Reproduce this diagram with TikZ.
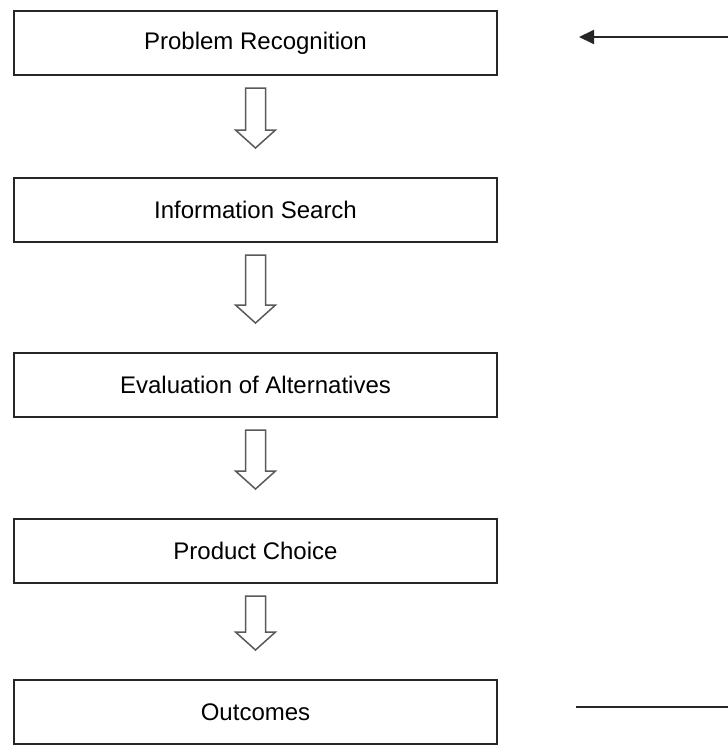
\documentclass[tikz,border=0pt]{standalone}
\usepackage{fontspec}
\setmainfont{Liberation Sans}
\usetikzlibrary{arrows.meta,calc}
\begin{document}
\begin{tikzpicture}[x=1pt,y=-1pt,
  stage/.style={draw=black!85,line width=2pt,minimum width=483pt,minimum height=64pt,inner sep=0pt,
    font=\fontsize{24}{28}\selectfont,fill=white},
  fatarrow/.style={draw=black!65,line width=1.5pt,fill=white,line join=miter},
  feed/.style={draw=black!85,line width=2pt}]
\useasboundingbox (0,0) rectangle (728,745);
\fill[white] (0,0) rectangle (728,745);
\node[stage] (b1) at (255.5,43)  {Problem Recognition};
\node[stage] (b2) at (255.5,210) {Information Search};
\node[stage] (b3) at (255.5,385) {Evaluation of Alternatives};
\node[stage] (b4) at (255.5,551) {Product Choice};
\node[stage] (b5) at (255.5,712) {Outcomes};
\newcommand\fatarr[2]{%
  \draw[fatarrow] ($(#1.south)+(-10,12)$) -- ($(#1.south)+(10,12)$)
    -- ($(#2.north)+(10,-47)$) -- ($(#2.north)+(20,-47)$)
    -- ($(#2.north)+(0,-29)$) -- ($(#2.north)+(-20,-47)$)
    -- ($(#2.north)+(-10,-47)$) -- cycle;}
\fatarr{b1}{b2}
\fatarr{b2}{b3}
\fatarr{b3}{b4}
\fatarr{b4}{b5}
\coordinate (fbin) at (728,37);
\coordinate (fbtip) at (579,37);
\coordinate (fbout) at (728,707);
\coordinate (fbstart) at (576,707);
\draw[feed,-{Triangle[length=15pt,width=14pt]}] (fbin) -- (fbtip);
\draw[feed] (fbstart) -- (fbout);
\end{tikzpicture}
\end{document}
